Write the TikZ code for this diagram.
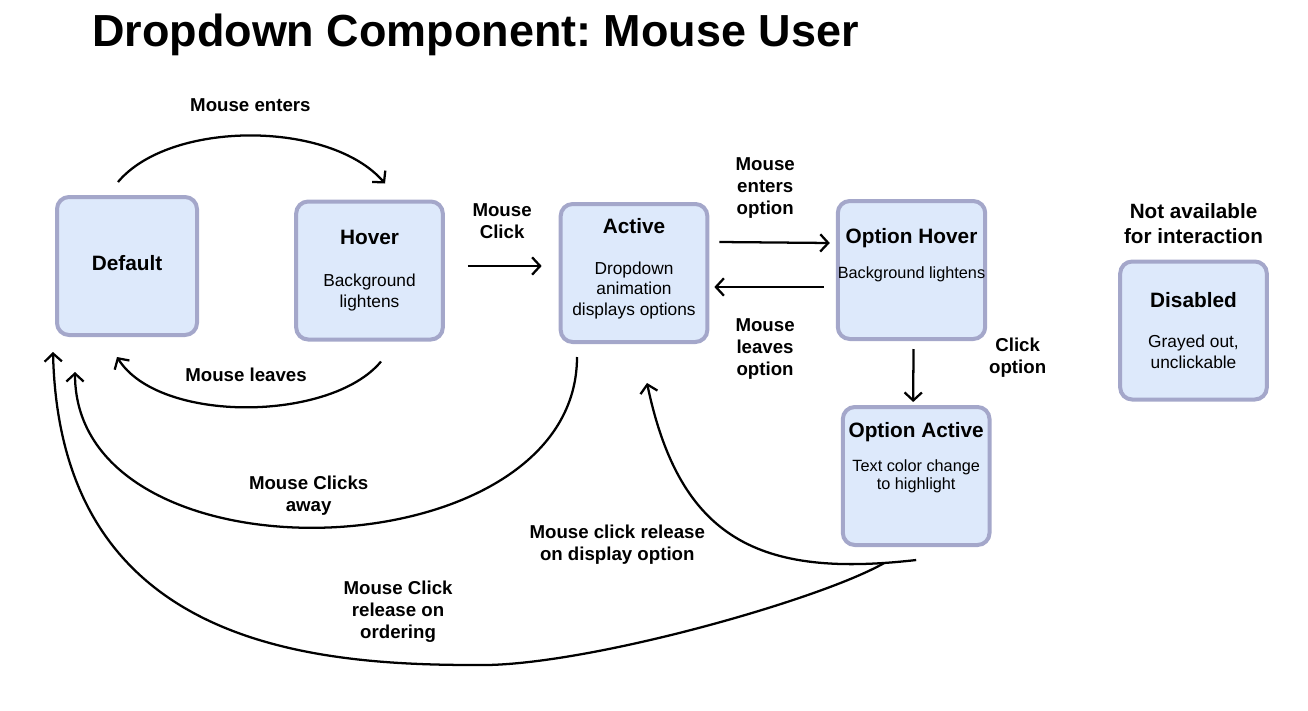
\documentclass[tikz,border=0pt,12pt]{standalone}
\usepackage{fontspec}
\setmainfont{Liberation Sans}
\usetikzlibrary{positioning, arrows.meta, calc}
\definecolor{statefill}{HTML}{DDE9FB}
\definecolor{stateline}{HTML}{A4A7CA}
\newcommand\statetitle[1]{{\fontsize{15.6}{18}\selectfont\bfseries #1}}
\tikzset{
  flow/.style={-{Straight Barb[length=6pt, width=13pt]}, draw=black, line width=1.7pt},
  state/.style={draw=stateline, fill=statefill, line width=3pt, rounded corners=9pt, minimum width=110pt, minimum height=103.5pt, align=center, font=\fontsize{13}{15.4}\selectfont},
  small/.style={font=\fontsize{12.2}{15}\selectfont},
  lbl/.style={align=center, font=\bfseries\fontsize{14}{16.5}\selectfont},
  heading/.style={font=\bfseries\fontsize{33.7}{40}\selectfont},
  >=Latex, every node/.style={inner sep=0}
}

\begin{document}
\frenchspacing
\begin{tikzpicture}[x=0.75pt, y=-0.75pt]
    \useasboundingbox (0,0) rectangle (1308,710);
    \node[heading, anchor=base west] (title) at (92,47) {Dropdown Component: Mouse User};
    \node[state, minimum width=105pt, text depth=5pt] (default) at (127,266) {\statetitle{Default}};
    \node[state] (hover) at (369.5,270.5) {\statetitle{Hover}\\[16pt]Background\\lightens};
    \node[state, text depth=9pt] (active) at (634,273) {\statetitle{Active}\\[15pt]Dropdown\\animation\\displays options};
    \node[state, small, text depth=25pt] (ohover) at (911.5,270) {\statetitle{Option Hover}\\[11pt]Background lightens};
    \node[state, small, text depth=30pt, below=48pt of ohover, xshift=3.5pt] (oactive) {\statetitle{Option Active}\\[10.5pt]Text color change\\[-1.5pt]to highlight};
    \node[state] (disabled) at (1193.5,330.5) {\statetitle{Disabled}\\[15pt]Grayed out,\\unclickable};
    \node[lbl, above=12pt of disabled, font=\bfseries\fontsize{15.5}{18.75}\selectfont] (navail) {Not available\\for interaction};
    % default <-> hover
    \draw[flow] ([shift={(-9,-13)}]default.north) .. controls (170,120) and (330,120) .. ([shift={(15.5,-16)}]hover.north)
      node[lbl, midway, above=17.5pt] (enters) {Mouse enters};
    \draw[flow] ([shift={(11.5,20)}]hover.south) .. controls (331,422) and (159,424) .. ([shift={(-10,20)}]default.south)
      node[lbl, midway, above=18.5pt] (leaves) {Mouse leaves};
    % hover -> active
    \draw[flow] ([shift={(23,-4.5)}]hover.east) -- ([shift={(-17,-7)}]active.west)
      node[lbl, midway, above=19.5pt, xshift=-2pt] (click) {Mouse\\Click};
    % active <-> option hover
    \draw[flow] ([shift={(10,-31)}]active.east) -- ([shift={(-6,-27)}]ohover.west)
      node[lbl, midway, above=17pt, xshift=-7pt] (oenters) {Mouse\\enters\\option};
    \draw[flow] ([shift={(-12,17)}]ohover.west) -- ([shift={(5,14)}]active.east)
      node[lbl, midway, below=23pt, xshift=-3pt] (oleaves) {Mouse\\leaves\\option};
    \draw[flow] ([shift={(2,8)}]ohover.south) -- ([shift={(-3,-3)}]oactive.north)
      node[lbl, midway, right=56pt, yshift=13pt] (oclick) {Click\\option};
    % back to default / active
    \draw[flow] ([shift={(-57,13)}]active.south) .. controls (577,574) and (75,589) .. ([shift={(-52,35)}]default.south)
      node[lbl, midway, above=8pt, xshift=-13pt] (away) {Mouse Clicks\\away};
    \draw[flow] ([shift={(0,13)}]oactive.south) .. controls (760,578) and (680,540) .. ([shift={(13,39)}]active.south)
      node[lbl, pos=0.5, left=22pt, yshift=-6pt] (release) {Mouse click release\\on display option};
    \draw[flow] ([shift={(-32,16)}]oactive.south) .. controls (820,600) and (580,668) .. (474,665)
      .. controls (300,665) and (60,640) .. ([shift={(-2,15)}]default.south west)
      node[lbl, pos=0.2, above=12.5pt, xshift=25.5pt] (ordering) {Mouse Click\\release on\\ordering};
\end{tikzpicture}
\end{document}
